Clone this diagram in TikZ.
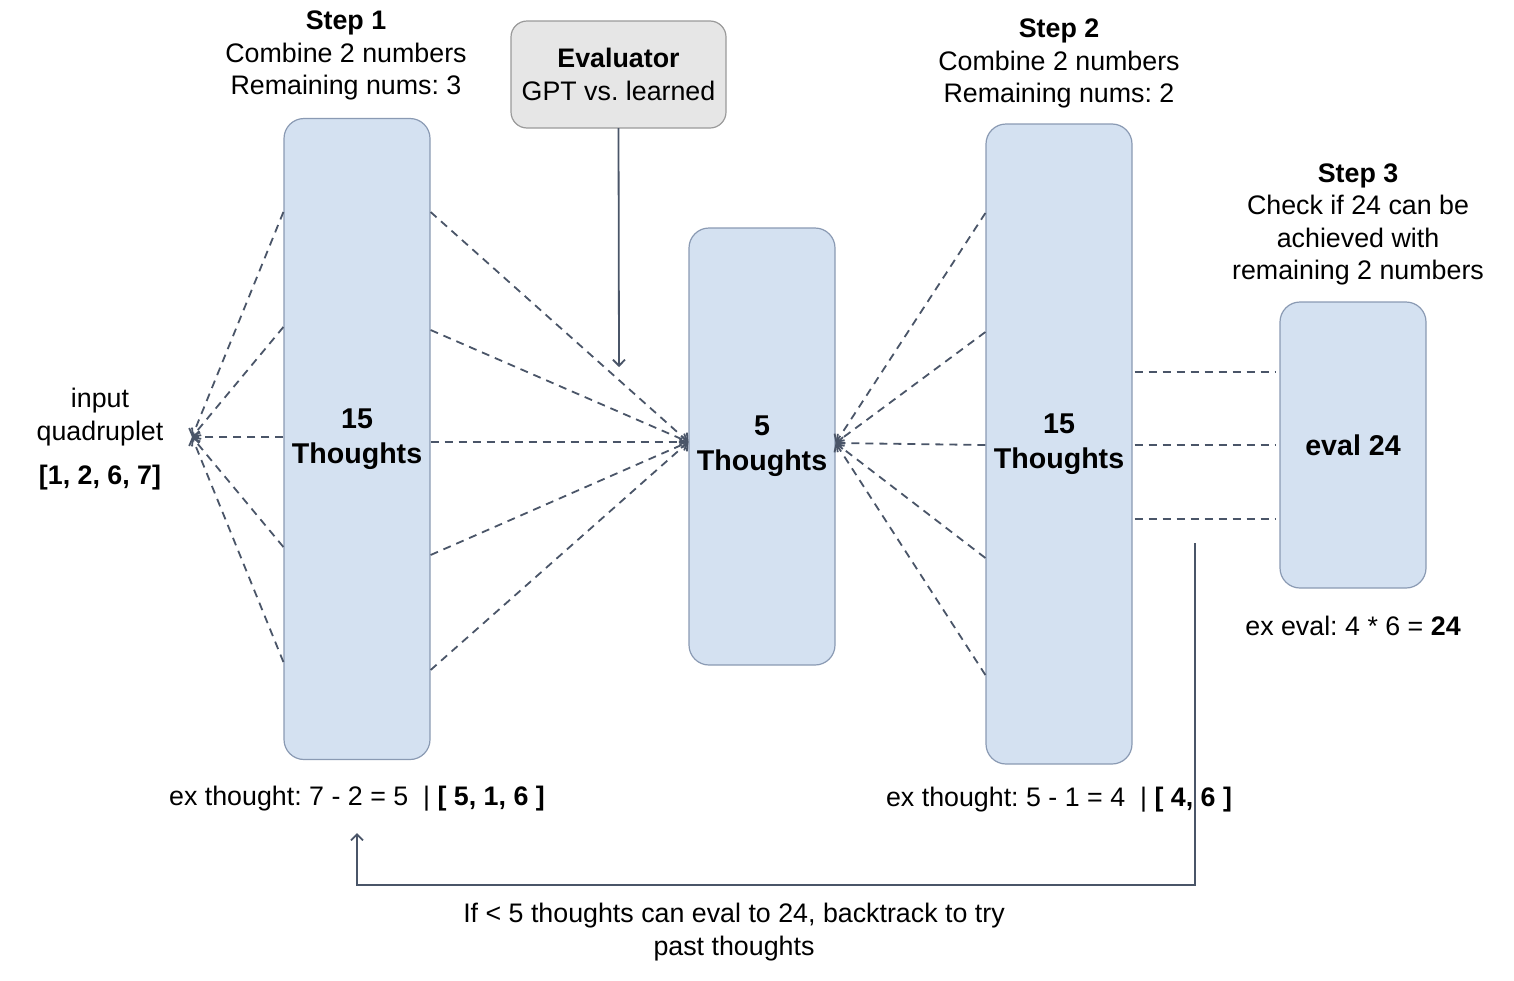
\documentclass[tikz,border=0pt]{standalone}
\usepackage{fontspec}
\setmainfont{Liberation Sans}
\usetikzlibrary{arrows.meta}
\frenchspacing

\definecolor{thoughtfill}{HTML}{D4E1F1}
\definecolor{thoughtline}{HTML}{8A9AB3}
\definecolor{evalfill}{HTML}{E6E6E6}
\definecolor{evalline}{HTML}{9A9A9A}
\definecolor{linkcol}{HTML}{4A5568}

\tikzset{
  thought/.style={draw=thoughtline, fill=thoughtfill, line width=0.6pt, rounded corners=10pt,
    minimum width=73pt, align=center, font=\fontsize{14.3}{17.5}\selectfont\bfseries},
  evalbox/.style={draw=evalline, fill=evalfill, line width=0.6pt, rounded corners=8pt,
    minimum width=107.5pt, minimum height=53.5pt, align=center},
  txt/.style={align=center, inner sep=0pt},
  dashline/.style={draw=linkcol, line width=0.9pt, dash pattern=on 4pt off 3pt},
  solidline/.style={draw=linkcol, line width=0.9pt},
  tip/.style={-{Straight Barb[length=3pt, width=6pt]}}
}

\begin{document}
\begin{tikzpicture}[x=0.5pt, y=-0.5pt, font=\fontsize{13.4}{16.3}\selectfont]
\useasboundingbox (0,0) rectangle (1514,980);

% thought columns
\node[thought, minimum height=320.5pt] (b1) at (357,439) {15\\Thoughts};
\node[thought, minimum height=218.5pt] (b2) at (762,446.5) {5\\Thoughts};
\node[thought, minimum height=320pt] (b3) at (1059,444) {15\\Thoughts};
\node[thought, minimum height=143pt] (b4) at (1353,445) {eval 24};
\node[evalbox] (ev) at (618.5,74.5) {\textbf{Evaluator}\\GPT vs. learned};

% captions
\node[txt] (step1) at (346,55.5) {\textbf{Step 1}\\Combine 2 numbers\\Remaining nums: 3};
\node[txt] (step2) at (1059,63.5) {\textbf{Step 2}\\Combine 2 numbers\\Remaining nums: 2};
\node[txt] (step3) at (1358,224.5) {\textbf{Step 3}\\Check if 24 can be\\achieved with\\remaining 2 numbers};
\node[txt] (inp) at (100,417) {input\\quadruplet};
\node[txt, font=\fontsize{13.4}{16.3}\selectfont\bfseries] (quad) at (100,478) {[1, 2, 6, 7]};
\node[txt] (ex1) at (357,799) {ex thought: 7 - 2 = 5\ \ | \textbf{[ 5, 1, 6 ]}};
\node[txt] (ex2) at (1059,800) {ex thought: 5 - 1 = 4\ \ | \textbf{[ 4, 6 ]}};
\node[txt] (ex3) at (1353,626) {ex eval: 4 * 6 = \textbf{24}};
\node[txt] (back) at (734,932) {If < 5 thoughts can eval to 24, backtrack to try\\past thoughts};

% fan-in connectors
\coordinate (in) at (192,437);
\foreach \y in {212,327,437,547,662}
  \draw[dashline, tip] (b1.west |- 0,\y) -- (in);
\foreach \y in {212,330,442,555,670}
  \draw[dashline, tip] (b1.east |- 0,\y) -- (b2.west |- 0,442);
\foreach \y in {213,332,445,558,675}
  \draw[dashline, tip] (b3.west |- 0,\y) -- (b2.east |- 0,443);
\foreach \y in {372,445,519}
  \draw[dashline, shorten <=1pt, shorten >=2pt] (b3.east |- 0,\y) -- (b4.west |- 0,\y);

% evaluator
\coordinate (evtip) at (619,367);
\draw[solidline, tip] (ev.south |- 0,128) -- (evtip);

% backtrack loop
\coordinate (btstart) at (1195,543);
\coordinate (bttip) at (357,833);
\draw[solidline, tip] (btstart) -- ++(0,342) -| (bttip);
\end{tikzpicture}
\end{document}
